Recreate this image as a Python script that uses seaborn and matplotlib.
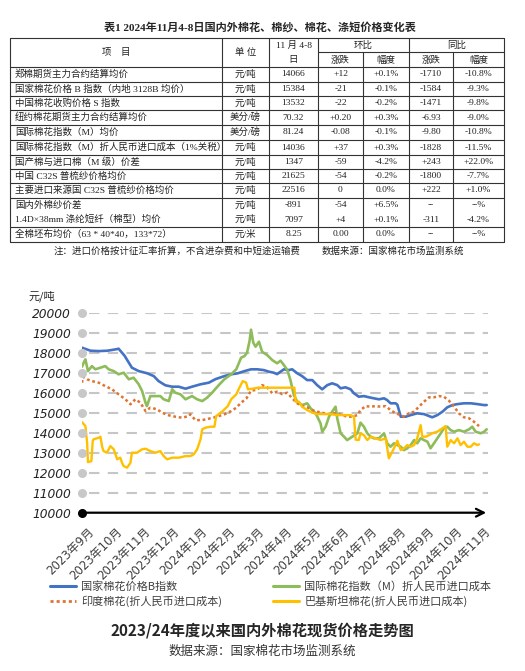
import matplotlib
matplotlib.use('Agg')
import matplotlib.pyplot as plt
import matplotlib.transforms as mtransforms
from matplotlib.lines import Line2D
import seaborn as sns

# ---------------- table data ----------------
table_title = '表1 2024年11月4-8日国内外棉花、棉纱、棉花、涤短价格变化表'
items = ['郑棉期货主力合约结算均价',
         '国家棉花价格 B 指数（内地 3128B 均价）',
         '中国棉花收购价格 S 指数',
         '纽约棉花期货主力合约结算均价',
         '国际棉花指数（M）均价',
         '国际棉花指数（M）折人民币进口成本（1%关税）',
         '国产棉与进口棉（M 级）价差',
         '中国 C32S 普梳纱价格均价',
         '主要进口来源国 C32S 普梳纱价格均价',
         '国内外棉纱价差',
         '1.4D×38mm 涤纶短纤（棉型）均价',
         '全棉坯布均价（63 * 40*40，133*72）']
units = ['元/吨', '元/吨', '元/吨', '美分/磅', '美分/磅', '元/吨',
         '元/吨', '元/吨', '元/吨', '元/吨', '元/吨', '元/米']
week_price = ['14066', '15384', '13532', '70.32', '81.24', '14036',
              '1347', '21625', '22516', '-891', '7097', '8.25']
wow_change = ['+12', '-21', '-22', '+0.20', '-0.08', '+37',
              '-59', '-54', '0', '-54', '+4', '0.00']
wow_pct = ['+0.1%', '-0.1%', '-0.2%', '+0.3%', '-0.1%', '+0.3%',
           '-4.2%', '-0.2%', '0.0%', '+6.5%', '+0.1%', '0.0%']
yoy_change = ['-1710', '-1584', '-1471', '-6.93', '-9.80', '-1828',
              '+243', '-1800', '+222', '--', '-311', '--']
yoy_pct = ['-10.8%', '-9.3%', '-9.8%', '-9.0%', '-10.8%', '-11.5%',
           '+22.0%', '-7.7%', '+1.0%', '--%', '-4.2%', '--%']
table_note = '注：进口价格按计征汇率折算，不含进杂费和中短途运输费'
table_source = '数据来源：国家棉花市场监测系统'

# ---------------- chart data (x = months since Sep 2023) ----------------
month_labels = ['2023年9月', '2023年10月', '2023年11月', '2023年12月',
                '2024年1月', '2024年2月', '2024年3月', '2024年4月',
                '2024年5月', '2024年6月', '2024年7月', '2024年8月',
                '2024年9月', '2024年10月', '2024年11月']

b_index_month = [0.00, 0.10, 0.30, 0.60, 0.90, 1.20, 1.29, 1.50, 1.76, 2.00,
                 2.30, 2.53, 2.70, 2.94, 3.18, 3.41, 3.65, 3.88, 4.18, 4.47,
                 4.71, 5.02, 5.26, 5.49, 5.73, 5.96, 6.18, 6.41, 6.59, 6.76,
                 6.88, 7.00, 7.12, 7.29, 7.41, 7.59, 7.76, 7.94, 8.12, 8.29,
                 8.47, 8.65, 8.82, 9.00, 9.12, 9.29, 9.47, 9.59, 9.76, 9.94,
                 10.12, 10.29, 10.47, 10.65, 10.76, 10.88, 11.06, 11.12, 11.24, 11.41,
                 11.59, 11.82, 12.06, 12.24, 12.35, 12.53, 12.71, 12.88, 13.06, 13.24,
                 13.47, 13.71, 13.94, 14.18, 14.27]
b_index_price = [18250, 18200, 18100, 18080, 18100, 18170, 18200, 17850, 17250, 17080,
                 16970, 16830, 16580, 16370, 16300, 16300, 16200, 16300, 16420, 16500,
                 16680, 16830, 16920, 16970, 17080, 17170, 17170, 17130, 17050, 17000,
                 16930, 17050, 17170, 17130, 17170, 16970, 16830, 16630, 16630, 16380,
                 16170, 16380, 16470, 16380, 16220, 16270, 16170, 15970, 15800, 15830,
                 15770, 15720, 15670, 15720, 15630, 15470, 15470, 15400, 14800, 14800,
                 14880, 14970, 14930, 14830, 14770, 14880, 15050, 15270, 15380, 15430,
                 15470, 15470, 15430, 15380, 15384]

m_index_month = [0.00, 0.06, 0.12, 0.21, 0.35, 0.47, 0.65, 0.82, 0.94, 1.12,
                 1.29, 1.47, 1.65, 1.82, 2.00, 2.12, 2.24, 2.29, 2.41, 2.59,
                 2.76, 2.88, 3.06, 3.18, 3.29, 3.47, 3.65, 3.88, 4.06, 4.24,
                 4.41, 4.59, 4.71, 4.85, 5.02, 5.26, 5.44, 5.61, 5.73, 5.82,
                 5.91, 5.96, 6.04, 6.12, 6.24, 6.35, 6.53, 6.71, 6.88, 7.00,
                 7.12, 7.24, 7.35, 7.47, 7.59, 7.76, 7.94, 8.06, 8.24, 8.41,
                 8.47, 8.59, 8.71, 8.82, 8.94, 9.00, 9.12, 9.24, 9.35, 9.53,
                 9.71, 9.82, 9.94, 10.06, 10.18, 10.29, 10.47, 10.65, 10.76, 10.88,
                 11.00, 11.12, 11.24, 11.35, 11.47, 11.59, 11.71, 11.82, 11.94, 12.06,
                 12.18, 12.29, 12.41, 12.53, 12.65, 12.76, 12.88, 13.00, 13.12, 13.29,
                 13.47, 13.65, 13.76, 13.88, 14.06, 14.18, 14.27]
m_index_price = [17300, 17500, 17670, 17080, 17330, 17170, 17250, 17330, 17170, 17080,
                 16920, 17000, 16670, 16750, 16420, 16080, 15500, 15330, 15830, 15830,
                 15830, 15670, 15580, 16170, 16000, 15920, 15670, 15830, 15670, 15580,
                 15750, 16000, 16200, 16420, 16670, 16920, 17170, 17750, 17830, 18000,
                 18600, 19150, 18500, 18300, 18550, 18050, 17880, 17630, 17470, 17600,
                 17380, 17130, 16630, 15880, 15550, 15380, 15470, 15220, 14970, 14470,
                 14050, 14300, 14800, 15050, 15300, 14720, 13970, 13800, 13630, 13800,
                 13970, 14500, 14300, 13970, 13800, 13720, 13720, 13970, 13470, 13300,
                 13470, 13380, 13300, 13130, 13220, 13380, 13630, 13470, 13720, 13630,
                 13550, 13220, 13470, 13720, 13970, 14220, 14300, 14130, 14050, 14130,
                 14050, 14170, 14300, 14050, 13970, 14050, 14170]

india_month = [0.00, 0.03, 0.18, 0.35, 0.59, 0.82, 1.06, 1.29, 1.53, 1.71,
               1.88, 2.06, 2.24, 2.41, 2.65, 2.82, 3.06, 3.29, 3.53, 3.76,
               3.82, 4.00, 4.24, 4.47, 4.71, 5.02, 5.26, 5.44, 5.61, 5.79,
               5.96, 6.18, 6.35, 6.53, 6.71, 6.88, 7.06, 7.24, 7.41, 7.59,
               7.76, 7.94, 8.12, 8.29, 8.47, 8.65, 8.82, 9.00, 9.18, 9.35,
               9.53, 9.71, 9.82, 10.00, 10.18, 10.35, 10.53, 10.71, 10.88, 11.06,
               11.24, 11.35, 11.53, 11.71, 11.88, 12.06, 12.24, 12.41, 12.59, 12.76,
               12.94, 13.12, 13.29, 13.47, 13.65, 13.82, 14.00]
india_price = [16500, 16800, 16670, 16580, 16500, 16330, 16170, 15920, 15670, 15420,
               15670, 15500, 15080, 15250, 15170, 15000, 14870, 14800, 14750, 14830,
               14920, 14630, 14630, 14700, 14780, 14920, 15080, 15250, 15500, 15700,
               16100, 16150, 16380, 16270, 15970, 16050, 15930, 16000, 15720, 15470,
               15330, 15270, 15130, 15050, 15000, 14930, 14970, 14970, 14880, 14800,
               14800, 14880, 15130, 15330, 15300, 15330, 15300, 15330, 15130, 14970,
               14880, 14800, 14970, 15050, 15300, 15550, 15770, 15770, 15830, 15800,
               15600, 15300, 14970, 14770, 14720, 14550, 14330]

pakistan_month = [0.00, 0.12, 0.18, 0.21, 0.33, 0.38, 0.41, 0.59, 0.65, 0.71,
                  0.76, 0.88, 1.00, 1.12, 1.24, 1.35, 1.41, 1.47, 1.59, 1.71,
                  1.76, 1.94, 2.12, 2.24, 2.41, 2.59, 2.76, 2.88, 3.00, 3.18,
                  3.41, 3.65, 3.82, 3.94, 4.06, 4.18, 4.24, 4.35, 4.53, 4.67,
                  4.73, 4.96, 5.14, 5.26, 5.44, 5.55, 5.67, 5.79, 5.85, 6.02,
                  6.20, 6.60, 7.00, 7.49, 7.53, 7.65, 7.76, 7.94, 8.12, 8.29,
                  8.53, 8.76, 9.00, 9.24, 9.47, 9.59, 9.65, 9.76, 9.82, 9.94,
                  10.06, 10.18, 10.35, 10.53, 10.71, 10.76, 10.82, 10.88, 11.00, 11.12,
                  11.24, 11.35, 11.47, 11.59, 11.71, 11.82, 11.94, 12.00, 12.12, 12.24,
                  12.35, 12.53, 12.71, 12.82, 12.88, 13.00, 13.12, 13.24, 13.35, 13.47,
                  13.59, 13.71, 13.82, 13.94, 14.00]
pakistan_price = [14530, 14330, 13500, 12530, 12580, 13600, 13670, 13750, 13800, 13300,
                  13080, 13000, 13330, 13170, 12670, 12750, 12500, 12330, 12250, 12500,
                  13000, 13000, 13170, 13200, 13080, 13000, 13080, 12830, 12670, 12750,
                  12750, 12830, 12830, 12920, 13170, 13670, 14170, 14250, 14300, 14300,
                  14830, 15080, 15330, 15670, 15920, 16250, 16580, 16500, 16170, 16200,
                  16250, 16250, 16250, 16250, 15550, 15550, 15300, 15130, 15000, 14930,
                  14930, 14930, 14880, 14880, 14880, 14800, 13650, 13630, 13970, 13880,
                  13630, 13800, 13720, 13630, 13720, 13250, 12720, 12880, 13220, 13600,
                  13130, 13220, 13380, 13300, 13380, 13720, 14380, 13800, 13800, 13880,
                  13970, 14050, 14220, 14330, 13300, 13630, 13470, 13720, 13380, 13550,
                  13300, 13300, 13470, 13380, 13420]

series_labels = ['国家棉花价格B指数', '印度棉花(折人民币进口成本)',
                 '国际棉花指数（M）折人民币进口成本', '巴基斯坦棉花(折人民币进口成本)']
chart_title = '2023/24年度以来国内外棉花现货价格走势图'
chart_source = '数据来源：国家棉花市场监测系统'

BLUE, GREEN, ORANGE, YELLOW = '#4472C4', '#8FBC5A', '#E07430', '#FFC000'
DOT_GREY = '#c8c8c8'
DASH_GREY = '#c6c6c6'

sns.set_style('white')
plt.rcParams['font.family'] = ['DejaVu Sans', 'Noto Sans CJK SC']
TABLE_FONT = ['Liberation Serif', 'Noto Sans CJK SC']
CJK_FONT = ['Noto Sans CJK SC', 'DejaVu Sans']

W, H = 525, 671
fig = plt.figure(figsize=(W / 100, H / 100), dpi=100)

# page in pixel coordinates for the table and captions
page = fig.add_axes([0, 0, 1, 1])
page.set_xlim(0, W)
page.set_ylim(H, 0)
page.axis('off')

page.text(260, 27, table_title, ha='center', va='center', fontsize=8,
          fontweight='bold', family=TABLE_FONT)

col_edges = [10, 222, 269, 318, 363, 409, 453, 504]
row_edges = [67, 82, 96, 110, 125, 140, 155, 169, 183, 198, 212, 227, 242]
top, mid = 38, 52
lc = dict(color='#333333', lw=0.8)

page.plot([col_edges[0], col_edges[-1]], [top, top], **lc)
page.plot([col_edges[3], col_edges[-1]], [mid, mid], **lc)
for i, y in enumerate(row_edges):
    if i == 10:  # the two yarn rows share a block
        continue
    page.plot([col_edges[0], col_edges[-1]], [y, y], **lc)
for j, x in enumerate(col_edges):
    y0 = mid if j in (4, 6) else top
    page.plot([x, x], [y0, row_edges[-1]], **lc)

tkw = dict(va='center', fontsize=6.8, family=TABLE_FONT, color='#222222')
page.text((col_edges[0] + col_edges[1]) / 2, 53, '项　目', ha='center', **tkw)
page.text((col_edges[1] + col_edges[2]) / 2, 53, '单 位', ha='center', **tkw)
page.text((col_edges[2] + col_edges[3]) / 2, 45, '11 月 4-8', ha='center', **tkw)
page.text((col_edges[2] + col_edges[3]) / 2, 60, '日', ha='center', **tkw)
page.text((col_edges[3] + col_edges[5]) / 2, 45, '环比', ha='center', **tkw)
page.text((col_edges[5] + col_edges[7]) / 2, 45, '同比', ha='center', **tkw)
for j, head in zip(range(3, 7), ['涨跌', '幅度', '涨跌', '幅度']):
    page.text((col_edges[j] + col_edges[j + 1]) / 2, 60, head, ha='center', **tkw)

columns = [units, week_price, wow_change, wow_pct, yoy_change, yoy_pct]
for i, item in enumerate(items):
    yc = (row_edges[i] + row_edges[i + 1]) / 2
    page.text(15, yc, item, ha='left', **tkw)
    for j, col in enumerate(columns, start=1):
        page.text((col_edges[j] + col_edges[j + 1]) / 2, yc, col[i], ha='center', **tkw)

page.text(54, 251, table_note, ha='left', **tkw)
page.text(322, 251, table_source, ha='left', **tkw)

# ---------------- line chart ----------------
px_month = 28.36
ax = fig.add_axes([82 / W, (H - 512.7) / H, 14.3 * px_month / W, 200 / H])
ax.patch.set_alpha(0)

yticks = list(range(10000, 20001, 1000))
ax.set_xlim(0, 14.3)
ax.set_ylim(10000, 20000)

# dashed guide lines with a grey dot at each gridline's start
ax.hlines(yticks[1:], 0.25, 14.3, colors=DASH_GREY, lw=1.5,
          linestyles=(0, (5, 4)), zorder=1)
ax.plot([0] * (len(yticks) - 1), yticks[1:], 'o', ms=5.5, color=DOT_GREY,
        clip_on=False, zorder=6)
ax.plot([0], [yticks[0]], 'o', ms=5.5, color='black', clip_on=False, zorder=7)

sns.lineplot(x=b_index_month, y=b_index_price, ax=ax, color=BLUE, lw=1.9, zorder=3)
sns.lineplot(x=m_index_month, y=m_index_price, ax=ax, color=GREEN, lw=1.9, zorder=3)
sns.lineplot(x=india_month, y=india_price, ax=ax, color=ORANGE, lw=1.8,
             linestyle=(0, (1.1, 1.1)), zorder=3)
sns.lineplot(x=pakistan_month, y=pakistan_price, ax=ax, color=YELLOW, lw=1.7, zorder=3)

for s in ax.spines.values():
    s.set_visible(False)
ax.grid(False)

ax.annotate('', xy=(14.35, 10000), xytext=(0, 10000), annotation_clip=False,
            arrowprops=dict(arrowstyle='->', color='black', lw=1.6, mutation_scale=14))

ax.set_xticks(range(len(month_labels)))
ax.set_xticklabels(month_labels)
ax.tick_params(axis='x', length=4, width=1.3, color='black', pad=5,
               labelsize=8.5, labelcolor='#404040')
offset = mtransforms.ScaledTranslation(0.05, 0, fig.dpi_scale_trans)
for lbl in ax.get_xticklabels():
    lbl.set_rotation(45)
    lbl.set_ha('right')
    lbl.set_va('top')
    lbl.set_rotation_mode('anchor')
    lbl.set_transform(lbl.get_transform() + offset)

ax.set_yticks(yticks, labels=[str(v) for v in yticks], fontstyle='oblique',
              family='DejaVu Sans', fontsize=8.8, color='#222222')
ax.tick_params(axis='y', length=0, pad=8)
ax.set_xlabel('')
ax.set_ylabel('')

page.text(42, 296, '元/吨', ha='center', va='center', fontsize=8, family=CJK_FONT)

handles = [Line2D([], [], color=BLUE, lw=2.2),
           Line2D([], [], color=ORANGE, lw=2.0, linestyle=(0, (1.1, 1.1))),
           Line2D([], [], color=GREEN, lw=2.2),
           Line2D([], [], color=YELLOW, lw=2.2)]
leg = fig.legend(handles, series_labels, ncol=2, loc='upper left',
                 bbox_to_anchor=(40 / W, 1 - 571 / H), frameon=False,
                 handlelength=2.3, handletextpad=0.5,
                 columnspacing=4.6, labelspacing=0.3,
                 prop={'family': CJK_FONT, 'size': 8})
for t in leg.get_texts():
    t.set_color('#404040')

page.text(262, 631, chart_title, ha='center', va='center', fontsize=11,
          fontweight='bold', family=CJK_FONT)
page.text(262, 651, chart_source, ha='center', va='center', fontsize=9,
          color='#333333', family=CJK_FONT)

fig.savefig('out.png', dpi=100)
